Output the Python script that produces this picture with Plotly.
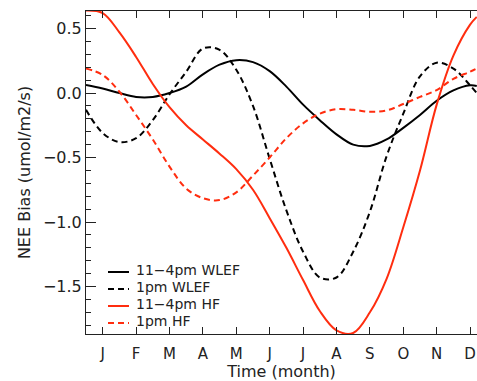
import plotly.graph_objects as go

# ---- data (month index: J=1 ... D=12) ----
months = [0.5, 1.0, 1.5, 2.0, 2.5, 3.0, 3.5, 4.0, 4.5, 5.0, 5.5, 6.0, 6.5,
          7.0, 7.5, 8.0, 8.5, 9.0, 9.5, 10.0, 10.5, 11.0, 11.5, 12.0, 12.2]

wlef_11_4 = [0.062, 0.035, 0.0, -0.03, -0.03, 0.0, 0.05, 0.145, 0.22, 0.255, 0.24, 0.17, 0.05,
             -0.09, -0.21, -0.32, -0.40, -0.41, -0.36, -0.27, -0.17, -0.06, 0.02, 0.06, 0.055]
wlef_1pm = [-0.13, -0.31, -0.38, -0.35, -0.21, -0.01, 0.165, 0.345, 0.335, 0.18, -0.10, -0.51, -0.91,
            -1.23, -1.43, -1.43, -1.23, -0.92, -0.49, -0.16, 0.13, 0.235, 0.19, 0.06, 0.0]
hf_11_4 = [0.64, 0.62, 0.47, 0.28, 0.07, -0.11, -0.25, -0.36, -0.47, -0.59, -0.75, -0.97, -1.20,
           -1.45, -1.69, -1.84, -1.86, -1.70, -1.44, -1.04, -0.60, -0.09, 0.29, 0.53, 0.59]
hf_1pm = [0.19, 0.14, 0.01, -0.17, -0.36, -0.57, -0.74, -0.815, -0.83, -0.77, -0.64, -0.50, -0.35,
          -0.235, -0.16, -0.125, -0.13, -0.145, -0.135, -0.085, -0.03, 0.023, 0.11, 0.165, 0.19]

series_names = ["11\u22124pm WLEF", "1pm WLEF", "11\u22124pm HF", "1pm HF"]
series_values = [wlef_11_4, wlef_1pm, hf_11_4, hf_1pm]

month_ticks = [1, 2, 3, 4, 5, 6, 7, 8, 9, 10, 11, 12]
month_labels = ["J", "F", "M", "A", "M", "J", "J", "A", "S", "O", "N", "D"]
y_ticks = [-1.5, -1.0, -0.5, 0.0, 0.5]

# ---- styles ----
RED = "rgb(255,45,15)"
colors = ["black", "black", RED, RED]
dashes = ["solid", "6px,4px", "solid", "6px,4px"]
FONT = "DejaVu Sans"
TXT = "#222222"

fig = go.Figure()
for name, vals, c, d in zip(series_names, series_values, colors, dashes):
    fig.add_trace(go.Scatter(x=months, y=vals, mode="lines", name=name,
                             line=dict(color=c, width=2, dash=d, shape="spline", smoothing=1.0),
                             showlegend=False))

# manual legend (tight line spacing like the original)
leg_y = [272, 289, 306, 323]
for name, c, d, py in zip(series_names, colors, dashes, leg_y):
    yp = (334 - py) / 323
    fig.add_shape(type="line", xref="paper", yref="paper",
                  x0=(108 - 86) / 391, x1=(129 - 86) / 391, y0=yp, y1=yp,
                  line=dict(color=c, width=2, dash=d))
    fig.add_annotation(xref="paper", yref="paper", x=(135 - 86) / 391, y=yp + 2 / 323,
                       text=name, showarrow=False, xanchor="left", yanchor="middle",
                       borderpad=0, font=dict(family=FONT, size=14, color=TXT))

fig.update_layout(
    width=477, height=381,
    margin=dict(l=86, r=0, t=11, b=47),
    paper_bgcolor="white", plot_bgcolor="white",
    font=dict(family=FONT, size=16, color=TXT),
    xaxis=dict(range=[0.5, 12.207], tickvals=month_ticks, ticktext=month_labels,
               ticks="inside", ticklen=7, tickwidth=1, tickcolor="#222",
               showline=True, linecolor="#222", linewidth=1, mirror="ticks",
               showgrid=False, zeroline=False, ticklabelstandoff=6,
               tickfont=dict(family=FONT, size=15, color=TXT),
               title=dict(text="Time (month)", font=dict(family=FONT, size=16, color=TXT), standoff=8)),
    yaxis=dict(range=[-1.868, 0.636], tickvals=y_ticks, tickformat=".1f",
               ticks="inside", ticklen=10, tickwidth=1, tickcolor="#222",
               minor=dict(dtick=0.1, tick0=0, ticks="inside", ticklen=5, tickcolor="#222", showgrid=False),
               showline=True, linecolor="#222", linewidth=1, mirror=False,
               showgrid=False, zeroline=False,
               tickfont=dict(family=FONT, size=16, color=TXT),
               title=dict(text="NEE Bias (umol/m2/s)", font=dict(family=FONT, size=16, color=TXT), standoff=8)),
)

fig.write_html("out.html")
